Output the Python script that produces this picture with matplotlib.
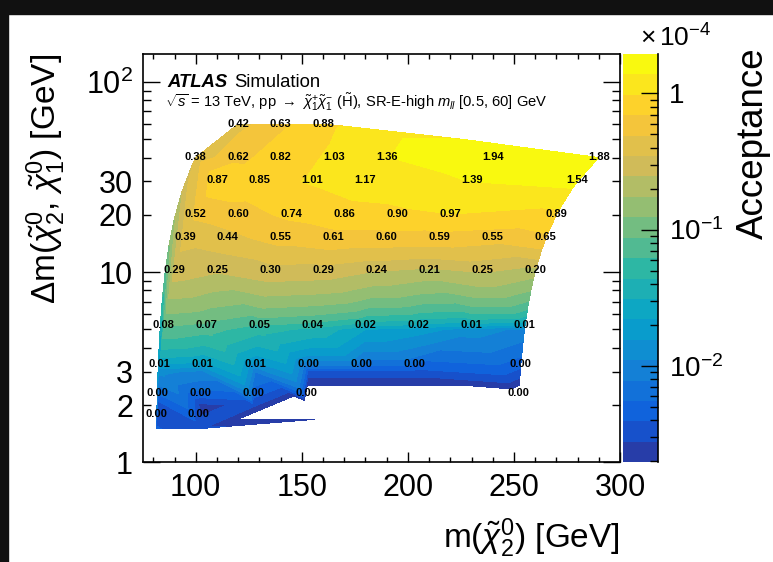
import numpy as np
import matplotlib
matplotlib.use("Agg")
import matplotlib.pyplot as plt
import matplotlib.tri as mtri
from matplotlib.colors import LogNorm, ListedColormap
from matplotlib.patches import Rectangle
from matplotlib.ticker import MultipleLocator, LogLocator, FuncFormatter, NullFormatter

plt.rcParams['font.family'] = ['Liberation Sans', 'DejaVu Sans']
plt.rcParams['mathtext.fontset'] = 'custom'
plt.rcParams['mathtext.rm'] = 'Liberation Sans'
plt.rcParams['mathtext.it'] = 'Liberation Sans:italic'
plt.rcParams['mathtext.bf'] = 'Liberation Sans:bold'

# --- signal grid: m(chi2), delta m, acceptance (x 1e-4) ---
m_chi2 = [120, 140, 160,
          100, 120, 140, 165, 190, 240, 290,
          110, 130, 155, 180, 230, 280,
          100, 120, 145, 170, 195, 220, 270,
          95, 115, 140, 165, 190, 215, 240, 265,
          90, 110, 135, 160, 185, 210, 235, 260,
          85, 105, 130, 155, 180, 205, 230, 255,
          83, 103, 128, 153, 178, 203, 253,
          82, 102, 127, 152, 252,
          81.5, 101.5]
delta_m = [60, 60, 60,
           40, 40, 40, 40, 40, 40, 40,
           30, 30, 30, 30, 30, 30,
           20, 20, 20, 20, 20, 20, 20,
           15, 15, 15, 15, 15, 15, 15, 15,
           10, 10, 10, 10, 10, 10, 10, 10,
           5, 5, 5, 5, 5, 5, 5, 5,
           3, 3, 3, 3, 3, 3, 3,
           2, 2, 2, 2, 2,
           1.5, 1.5]
acceptance = [0.42, 0.63, 0.88,
              0.38, 0.62, 0.82, 1.03, 1.36, 1.94, 1.88,
              0.87, 0.85, 1.01, 1.17, 1.39, 1.54,
              0.52, 0.60, 0.74, 0.86, 0.90, 0.97, 0.89,
              0.39, 0.44, 0.55, 0.61, 0.60, 0.59, 0.55, 0.65,
              0.29, 0.25, 0.30, 0.29, 0.24, 0.21, 0.25, 0.20,
              0.08, 0.07, 0.05, 0.04, 0.022, 0.018, 0.013, 0.010,
              0.012, 0.010, 0.008, 0.0035, 0.0035, 0.0035, 0.0035,
              0.003, 0.0025, 0.003, 0.0001, 0.0001,
              0.004, 0.003]

z_min, z_max = 0.00195, 1.95
n_contours = 20

# ROOT kBird palette
bird_stops = [0.0, 0.125, 0.25, 0.375, 0.5, 0.625, 0.75, 0.875, 1.0]
bird_r = [0.2082, 0.0592, 0.0780, 0.0232, 0.1802, 0.5301, 0.8186, 0.9956, 0.9764]
bird_g = [0.1664, 0.3599, 0.5041, 0.6419, 0.7178, 0.7492, 0.7328, 0.7862, 0.9832]
bird_b = [0.5293, 0.8684, 0.8385, 0.7914, 0.6425, 0.4662, 0.3499, 0.1968, 0.0539]
idx = np.floor((np.arange(n_contours) + 0.99) * 255 / n_contours) / 255
band_colors = np.column_stack([np.interp(idx, bird_stops, bird_r),
                               np.interp(idx, bird_stops, bird_g),
                               np.interp(idx, bird_stops, bird_b)])
cmap = ListedColormap(band_colors)
levels = np.logspace(np.log10(z_min), np.log10(z_max), n_contours + 1)

x = np.array(m_chi2, dtype=float)
y = np.array(delta_m, dtype=float)
z = np.array(acceptance, dtype=float)
# Delaunay in normalised coordinates, like TGraph2D
xn = (x - x.min()) / (x.max() - x.min())
yn = (y - y.min()) / (y.max() - y.min())
tri = mtri.Triangulation(x, y, mtri.Triangulation(xn, yn).triangles)

fig = plt.figure(figsize=(7.73, 5.62), dpi=100)
ax = fig.add_axes([0.1846, 0.1774, 0.6175, 0.7265])
cax = fig.add_axes([0.806, 0.1774, 0.045, 0.7265])

cs = ax.tricontourf(tri, z, levels=levels, cmap=cmap, norm=LogNorm(z_min, z_max),
                    antialiased=False)

for xi, yi, zi in zip(x, y, z):
    ax.text(xi, yi + 0.3, f'{zi:.2f}', ha='center', va='center',
            fontsize=8, fontweight='bold', color='black')

ax.set_yscale('log')
ax.set_xlim(75, 300)
ax.set_ylim(1, 140)
ax.xaxis.set_major_locator(MultipleLocator(50))
ax.xaxis.set_minor_locator(MultipleLocator(10))
ax.set_yticks([1, 10, 100], labels=['1', '10', '$10^{2}$'])
ax.yaxis.set_minor_locator(LogLocator(base=10, subs=np.arange(2, 10)))
ax.yaxis.set_minor_formatter(FuncFormatter(
    lambda v, p: f'{v:g}' if round(v, 3) in (2, 3, 20, 30) else ''))
ax.tick_params(axis='both', which='both', direction='in', top=True, right=True,
               labelsize=22, width=1)
ax.tick_params(axis='x', which='major', length=7, pad=8)
ax.tick_params(axis='x', which='minor', length=3.5)
ax.tick_params(axis='y', which='major', length=12, pad=7)
ax.tick_params(axis='y', which='minor', length=6, pad=7)
for sp in ax.spines.values():
    sp.set_linewidth(1.2)

cbar = fig.colorbar(cs, cax=cax)
cbar.outline.set_visible(False)
cbar.set_ticks([0.01, 0.1, 1], labels=['$10^{-2}$', '$10^{-1}$', '1'])
cax.yaxis.set_minor_locator(LogLocator(base=10, subs=np.arange(2, 10)))
cax.yaxis.set_minor_formatter(NullFormatter())
cax.tick_params(which='both', direction='in', right=True, left=False,
                labelsize=20, width=1, pad=8)
cax.tick_params(which='major', length=12)
cax.tick_params(which='minor', length=6)
cax.plot([1, 1], [0, 1], transform=cax.transAxes, color='black', lw=1.2, clip_on=False)

fig.text(0.802, 0.025, r'm($\tilde{\chi}^{0}_{2}$) [GeV]', ha='right', va='baseline', fontsize=24)
fig.text(0.06, 0.904, r'$\Delta$m($\tilde{\chi}^{0}_{2}$, $\tilde{\chi}^{0}_{1}$) [GeV]',
         rotation=90, ha='center', va='top', fontsize=24)
fig.text(0.975, 0.915, 'Acceptance', rotation=90, ha='center', va='top', fontsize=26.5)
fig.text(0.828, 0.932, r'$\times\,10^{-4}$', ha='left', va='center', fontsize=19)

fig.text(0.216, 0.846, 'ATLAS', fontsize=13.3, fontweight='bold', fontstyle='italic')
fig.text(0.303, 0.846, 'Simulation', fontsize=13.3)
fig.text(0.214, 0.81, r'$\sqrt{s}$ = 13 TeV, pp $\rightarrow$ $\tilde{\chi}^{+}_{1}\tilde{\chi}^{-}_{1}$ '
         r'($\tilde{\mathrm{H}}$), SR-E-high $m_{ll}$ [0.5, 60] GeV', fontsize=10.6)

# dark strips at top and left edge of the picture
fig.patches.append(Rectangle((0, 1 - 14 / 562), 1, 14 / 562, transform=fig.transFigure,
                             color='#111111', zorder=10))
fig.patches.append(Rectangle((0, 0), 8 / 773, 1, transform=fig.transFigure,
                             color='#111111', zorder=10))

fig.savefig('out.png', dpi=100)
